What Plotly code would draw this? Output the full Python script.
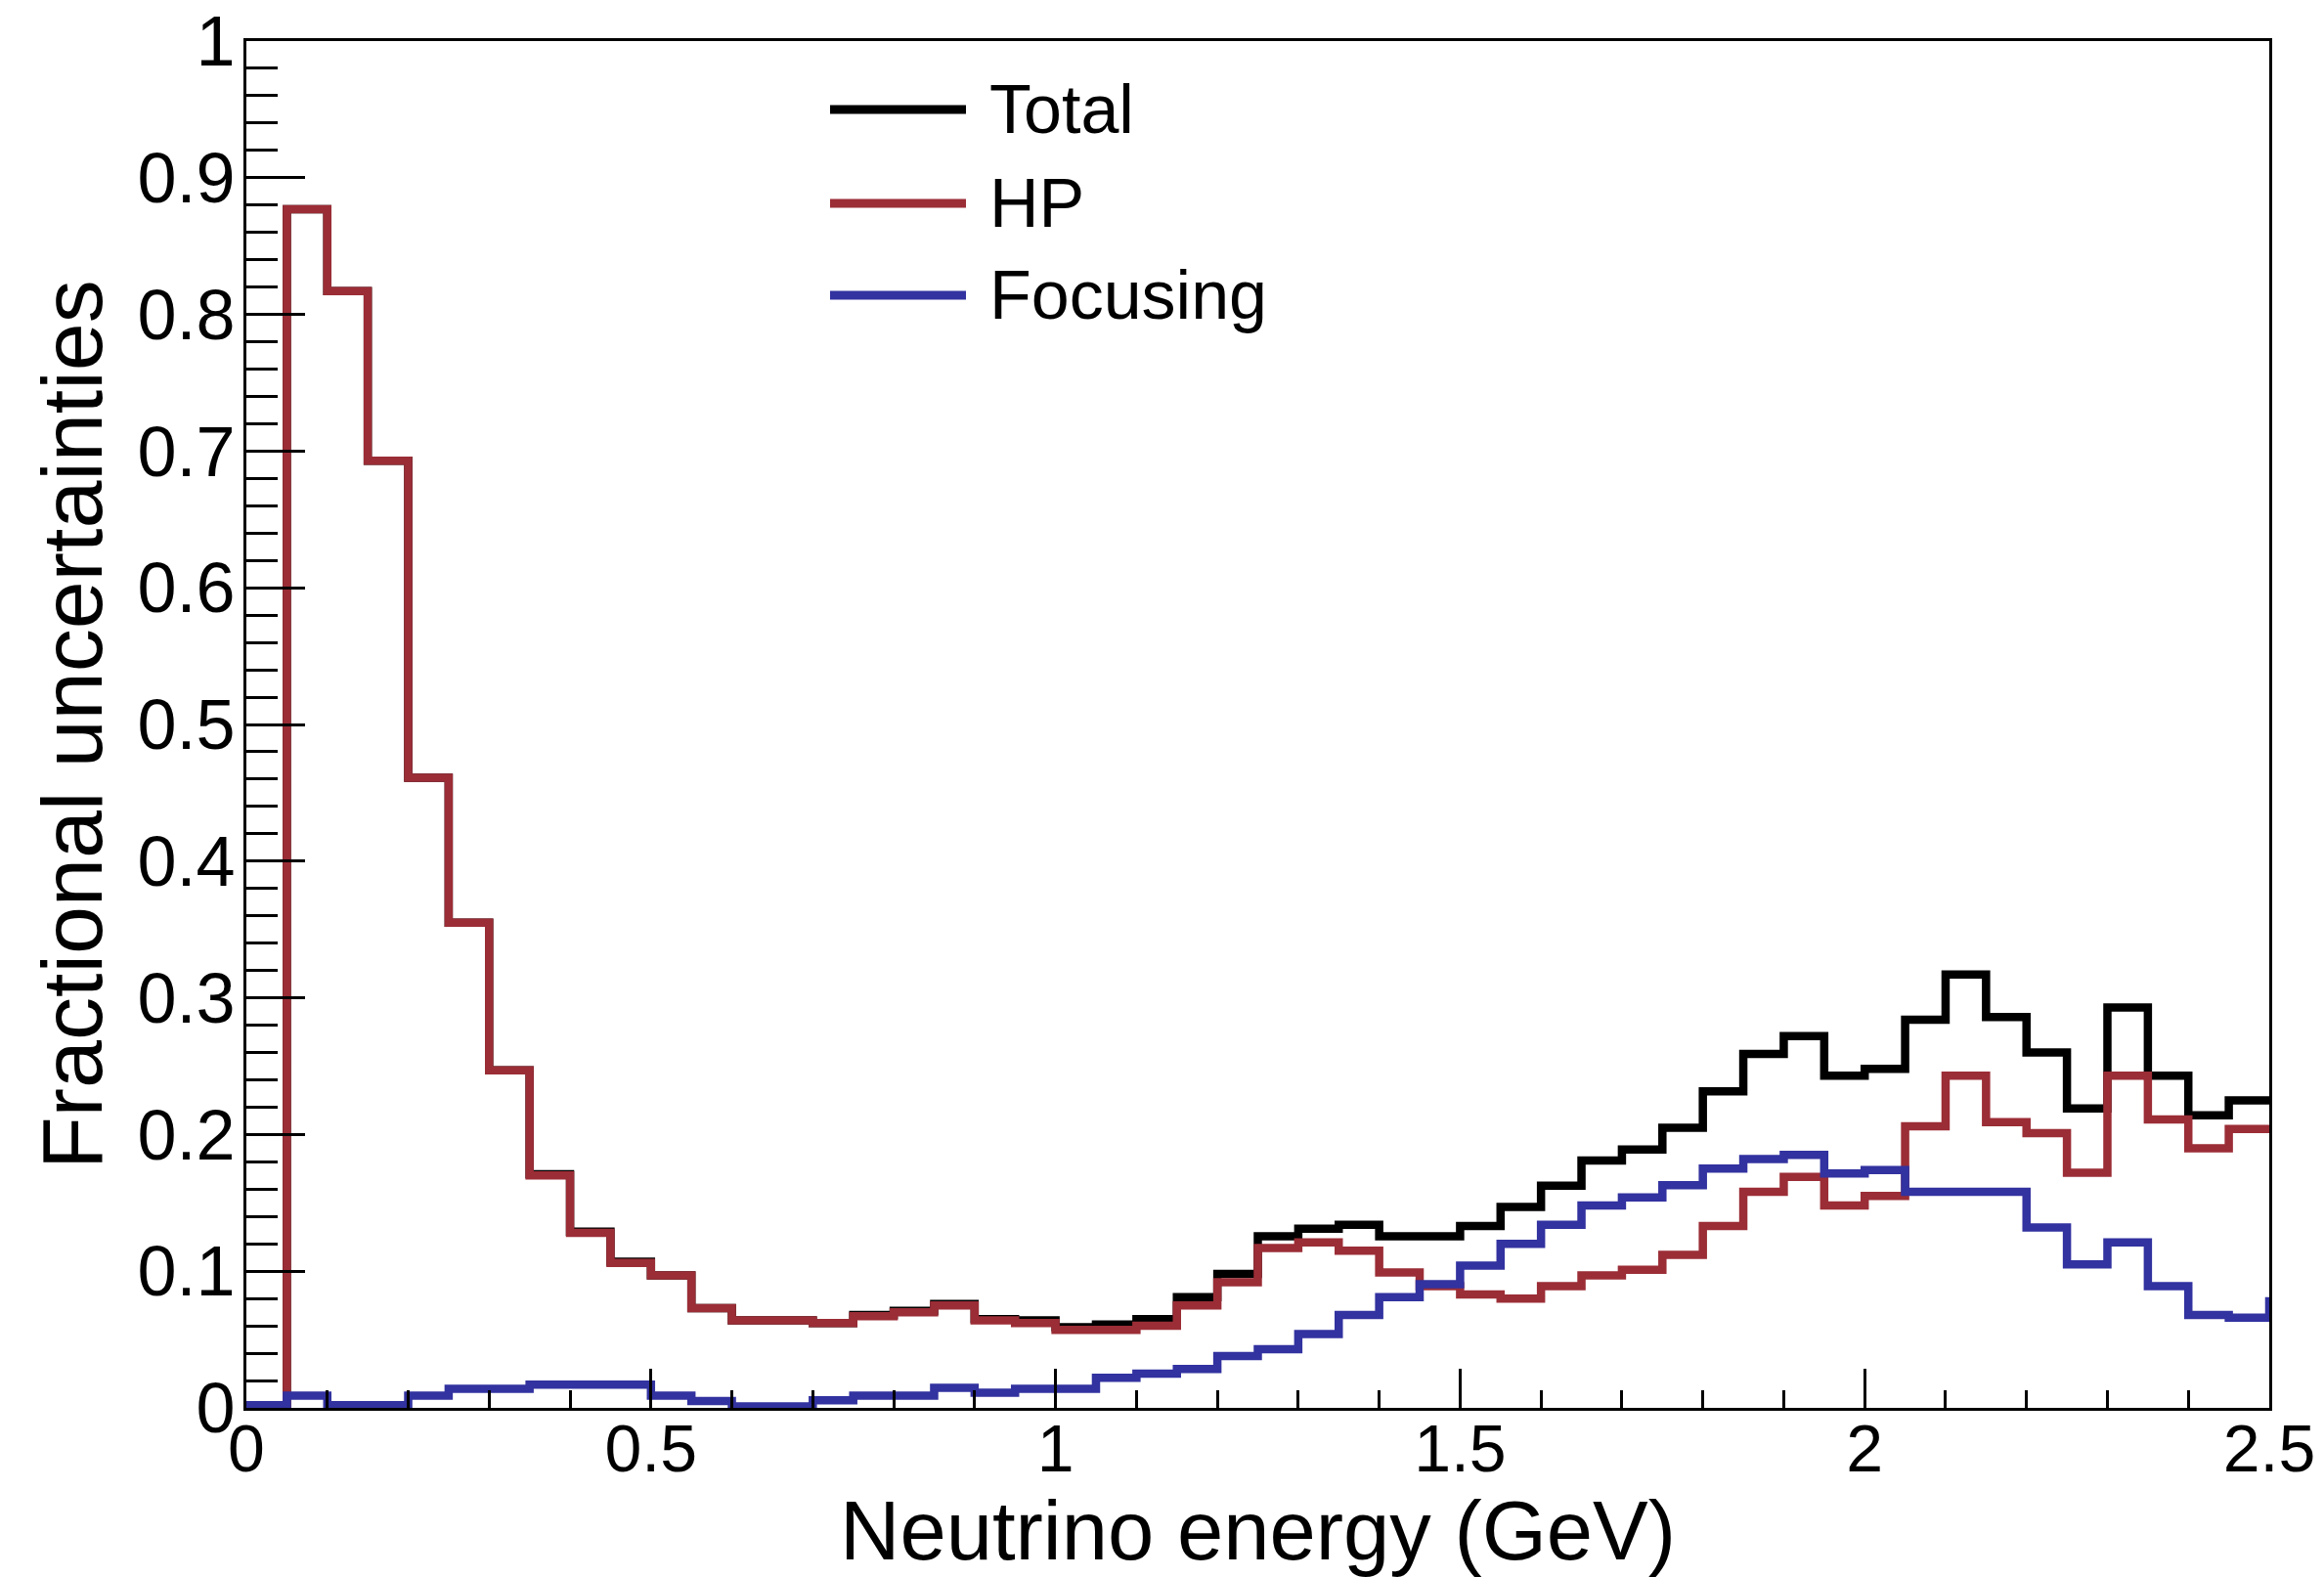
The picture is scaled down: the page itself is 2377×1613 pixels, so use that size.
import plotly.graph_objects as go

# ---- data (bin width 0.05 GeV, 50 bins from 0 to 2.5 GeV, plus first bin past the range) ----
bin_width = 0.05
n_bins = 51
bin_left_edges = [round(i * bin_width, 2) for i in range(n_bins)]

total = [0.002, 0.877, 0.817, 0.693, 0.461, 0.355, 0.247, 0.171, 0.129, 0.107,
         0.097, 0.073, 0.064, 0.064, 0.062, 0.068, 0.071, 0.076, 0.065, 0.064,
         0.059, 0.061, 0.065, 0.081, 0.098, 0.1255, 0.131, 0.134, 0.1255, 0.1255,
         0.133, 0.147, 0.1625, 0.181, 0.189, 0.205, 0.2316, 0.259, 0.272, 0.243,
         0.248, 0.284, 0.317, 0.286, 0.260, 0.219, 0.293, 0.243, 0.214, 0.225,
         0.225]

hp = [0.0, 0.877, 0.817, 0.693, 0.461, 0.355, 0.247, 0.170, 0.128, 0.106,
      0.097, 0.073, 0.064, 0.064, 0.062, 0.067, 0.070, 0.075, 0.064, 0.062,
      0.057, 0.057, 0.060, 0.075, 0.092, 0.117, 0.121, 0.115, 0.099, 0.089,
      0.083, 0.080, 0.089, 0.097, 0.101, 0.112, 0.133, 0.158, 0.169, 0.148,
      0.155, 0.206, 0.243, 0.209, 0.201, 0.172, 0.243, 0.211, 0.190, 0.204,
      0.204]

focusing = [0.002, 0.009, 0.002, 0.002, 0.009, 0.014, 0.014, 0.017, 0.017, 0.017,
            0.009, 0.005, 0.001, 0.001, 0.0056, 0.009, 0.009, 0.0147, 0.011, 0.014,
            0.014, 0.022, 0.025, 0.0285, 0.038, 0.043, 0.054, 0.068, 0.081, 0.0905,
            0.104, 0.120, 0.134, 0.148, 0.154, 0.163, 0.175, 0.182, 0.185, 0.1715,
            0.174, 0.158, 0.158, 0.158, 0.132, 0.105, 0.121, 0.089, 0.068, 0.066,
            0.078]

series_names = ["Total", "HP", "Focusing"]
series_colors = ["#000000", "#9b2d36", "#3232a0"]

x_title = "Neutrino energy (GeV)"
y_title = "Fractional uncertainties"

# ---- figure ----
W, H = 2377, 1613
ML, MR, MT, MB = 252, 56, 42, 173
FONT = "Liberation Sans, Arial, Helvetica, sans-serif"
plot_w = W - ML - MR
plot_h = H - MT - MB


def px_to_paper(px, py):
    return (px - ML) / plot_w, (H - MB - py) / plot_h


fig = go.Figure()
for name, vals, col in zip(series_names, [total, hp, focusing], series_colors):
    xs = bin_left_edges + [bin_left_edges[-1] + bin_width]
    ys = vals + [vals[-1]]
    fig.add_trace(go.Scatter(x=xs, y=ys, mode="lines", name=name,
                             line=dict(color=col, width=8.5, shape="hv"),
                             showlegend=False, hoverinfo="skip"))

# manual ROOT-like legend
legend_rows_py = [112, 208, 302]
for name, col, py in zip(series_names, series_colors, legend_rows_py):
    x0, y0 = px_to_paper(849, py)
    x1, _ = px_to_paper(988, py)
    fig.add_shape(type="line", xref="paper", yref="paper", x0=x0, x1=x1, y0=y0, y1=y0,
                  line=dict(color=col, width=9))
    tx, ty = px_to_paper(1010, py)
    fig.add_annotation(xref="paper", yref="paper", x=tx, y=ty, text=name,
                       showarrow=False, xanchor="left", yanchor="middle",
                       font=dict(family=FONT, size=70, color="black"))

# axis titles
tx, ty = px_to_paper(1286, 1565)
fig.add_annotation(xref="paper", yref="paper", x=0.5, y=ty, text=x_title,
                   showarrow=False, xanchor="center", yanchor="middle",
                   font=dict(family=FONT, size=85, color="black"))
tx, ty = px_to_paper(73, 740)
fig.add_annotation(xref="paper", yref="paper", x=tx, y=0.5, text=y_title,
                   showarrow=False, xanchor="center", yanchor="middle", textangle=-90,
                   font=dict(family=FONT, size=88, color="black"))

fig.update_layout(
    width=W, height=H,
    margin=dict(l=ML, r=MR, t=MT, b=MB, autoexpand=False),
    paper_bgcolor="white", plot_bgcolor="white",
    font=dict(family=FONT, color="black"),
    xaxis=dict(range=[0, 2.5], dtick=0.5, tick0=0, automargin=False,
               ticks="inside", ticklen=40, tickwidth=3, tickcolor="black",
               minor=dict(dtick=0.1, ticks="inside", ticklen=18, tickwidth=3, tickcolor="black"),
               showline=True, linecolor="black", linewidth=3, mirror=True,
               showgrid=False, zeroline=False, ticklabelstandoff=-20,
               tickfont=dict(family=FONT, size=68, color="black")),
    yaxis=dict(range=[0, 1], dtick=0.1, tick0=0, automargin=False,
               ticks="inside", ticklen=60, tickwidth=3, tickcolor="black",
               minor=dict(dtick=0.02, ticks="inside", ticklen=32, tickwidth=3, tickcolor="black"),
               showline=True, linecolor="black", linewidth=3, mirror=True,
               showgrid=False, zeroline=False, ticklabelstandoff=-6,
               tickfont=dict(family=FONT, size=72, color="black")),
)

fig.write_html("out.html")
